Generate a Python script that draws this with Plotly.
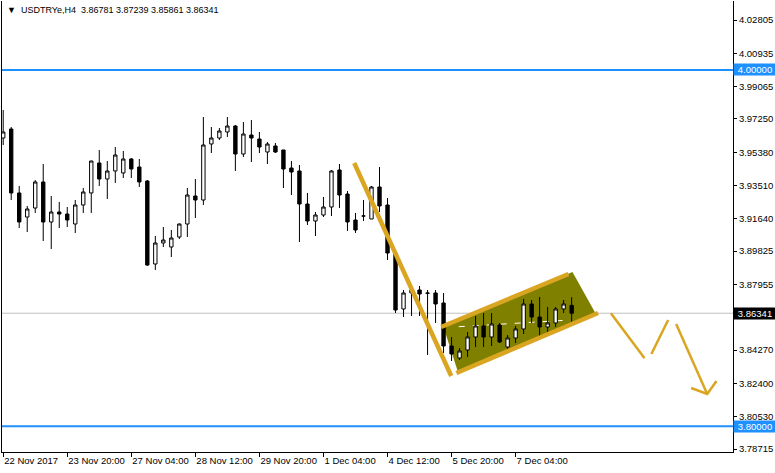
import plotly.graph_objects as go

# USDTRYe H4 bars, 22 Nov 12:00 .. 8 Dec 08:00 (bar index 0..71)
opens = [3.96179, 3.96685, 3.93092, 3.91743, 3.92249, 3.93709, 3.91463, 3.92025, 3.91912, 3.91350,
         3.92418, 3.93092, 3.94776, 3.93877, 3.94327, 3.94215, 3.95000, 3.94551, 3.93765, 3.89104,
         3.90284, 3.90059, 3.90620, 3.91350, 3.92923, 3.92698, 3.95843, 3.96179, 3.96517, 3.96853,
         3.95281, 3.96348, 3.96123, 3.95393, 3.95731, 3.95506, 3.94495, 3.94327, 3.92474, 3.91519,
         3.91856, 3.92305, 3.94383, 3.93035, 3.91575, 3.91800, 3.91631, 3.93428, 3.92418, 3.89722,
         3.86578, 3.87477, 3.87645, 3.87477, 3.87477, 3.86915, 3.84501, 3.83826, 3.84276, 3.85006,
         3.85624, 3.85006, 3.85680, 3.84444, 3.84950, 3.85455, 3.86859, 3.86129, 3.85568, 3.85792,
         3.86578, 3.86781]
highs = [3.97752, 3.96797, 3.93485, 3.92362, 3.93821, 3.94719, 3.92923, 3.92586, 3.92305, 3.92698,
         3.93372, 3.94900, 3.95506, 3.94888, 3.95674, 3.95450, 3.95056, 3.95000, 3.93821, 3.90677,
         3.91182, 3.91014, 3.91380, 3.93372, 3.93877, 3.97359, 3.96797, 3.96741, 3.97359, 3.96910,
         3.97078, 3.97190, 3.96517, 3.95955, 3.95899, 3.95506, 3.94888, 3.94663, 3.93092, 3.92025,
         3.92867, 3.94383, 3.94720, 3.93204, 3.91969, 3.92698, 3.93485, 3.94551, 3.92811, 3.89891,
         3.87645, 3.87814, 3.87870, 3.87645, 3.87645, 3.87477, 3.85006, 3.84388, 3.85287, 3.86185,
         3.86353, 3.86353, 3.85792, 3.85118, 3.85624, 3.87139, 3.87083, 3.87252, 3.86690, 3.86690,
         3.87083, 3.87239]
lows = [3.95787, 3.92698, 3.91126, 3.90902, 3.91969, 3.90396, 3.89947, 3.91126, 3.91182, 3.90846,
        3.91969, 3.91969, 3.93485, 3.92754, 3.93653, 3.93933, 3.93933, 3.93428, 3.88992, 3.88768,
        3.90059, 3.89498, 3.90508, 3.90620, 3.91688, 3.92418, 3.95337, 3.96067, 3.96236, 3.94327,
        3.95113, 3.94832, 3.95337, 3.94720, 3.95337, 3.93372, 3.92979, 3.90340, 3.91295, 3.90677,
        3.91743, 3.91800, 3.92249, 3.90958, 3.90846, 3.91519, 3.91631, 3.92025, 3.89329, 3.86353,
        3.86129, 3.86185, 3.86185, 3.83995, 3.85792, 3.84107, 3.83658, 3.83714, 3.83882, 3.84444,
        3.84444, 3.84501, 3.84669, 3.84276, 3.84669, 3.85174, 3.85792, 3.85062, 3.85287, 3.85568,
        3.86353, 3.85861]
closes = [3.96517, 3.93092, 3.91463, 3.92193, 3.93709, 3.91463, 3.92025, 3.91912, 3.91575, 3.92418,
          3.93148, 3.94888, 3.93877, 3.94327, 3.95225, 3.95000, 3.94439, 3.93709, 3.89048, 3.90284,
          3.90452, 3.90564, 3.91350, 3.92979, 3.92698, 3.95787, 3.96179, 3.96573, 3.96853, 3.95281,
          3.96404, 3.96179, 3.95674, 3.95843, 3.95393, 3.94439, 3.94270, 3.92474, 3.91519, 3.91856,
          3.92305, 3.94327, 3.92979, 3.91463, 3.91014, 3.91800, 3.93428, 3.92362, 3.89722, 3.86522,
          3.87477, 3.87645, 3.87420, 3.87460, 3.86859, 3.84501, 3.84051, 3.84219, 3.85006, 3.85624,
          3.85006, 3.85736, 3.84725, 3.84950, 3.85455, 3.86859, 3.86129, 3.85568, 3.85792, 3.86578,
          3.86859, 3.86341]
bars = list(range(len(opens)))

# time axis labels every 8 bars
date_ticks = [0, 8, 16, 24, 32, 40, 48, 56, 64]
date_labels = ["22 Nov 2017", "23 Nov 20:00", "27 Nov 04:00", "28 Nov 12:00", "29 Nov 20:00",
               "1 Dec 04:00", "4 Dec 12:00", "5 Dec 20:00", "7 Dec 04:00"]

price_ticks = [4.02805, 4.00935, 3.99065, 3.97250, 3.95380, 3.93510, 3.91640, 3.89825,
               3.87955, 3.86085, 3.84270, 3.82400, 3.80530, 3.78715]

# horizontal levels and current bid
levels = [4.00000, 3.80000]
bid = 3.86341

# the scale label sitting under the bid marker is left blank
price_labels = ["" if abs(v - bid) < 0.003 else f"{v:.5f}" for v in price_ticks]

# analysis drawings (bar index, price)
trend_bars = [43.84, 55.96]
trend_prices = [3.94776, 3.82816]
flag_fill_bars = [54.95, 71.1, 74.1, 56.8]
flag_fill_prices = [3.85624, 3.88655, 3.86241, 3.83041]
flag_top_bars = [54.7, 70.6]
flag_top_prices = [3.85568, 3.88543]
flag_bottom_bars = [56.6, 74.3]
flag_bottom_prices = [3.82984, 3.86353]
flag_mid_bars = [56.9, 70.8]
flag_mid_prices = [3.85584, 3.85960]
zig1_bars = [75.9, 80.1]
zig1_prices = [3.86336, 3.83809]
zig2_bars = [80.96, 83.05]
zig2_prices = [3.84051, 3.85960]
zig3_bars = [84.05, 87.93]
zig3_prices = [3.85736, 3.81805]
head_bars = [85.92, 87.93, 89.09]
head_prices = [3.82142, 3.81805, 3.82535]

FONT = "Liberation Sans"
GOLD = "#DAA520"
BLUE = "#1E90FF"

fig = go.Figure()

fig.add_trace(go.Candlestick(
    x=bars, open=opens, high=highs, low=lows, close=closes,
    increasing=dict(line=dict(color="black", width=1), fillcolor="white"),
    decreasing=dict(line=dict(color="black", width=1), fillcolor="black"),
    whiskerwidth=0, hoverinfo="skip", showlegend=False))

for xs, ys, w in [(trend_bars, trend_prices, 4.5),
                  (flag_top_bars, flag_top_prices, 4.5),
                  (flag_bottom_bars, flag_bottom_prices, 4.5),
                  (zig1_bars, zig1_prices, 2.5),
                  (zig2_bars, zig2_prices, 2.5),
                  (zig3_bars, zig3_prices, 2.5),
                  (head_bars, head_prices, 2.5)]:
    fig.add_trace(go.Scatter(x=xs, y=ys, mode="lines", line=dict(color=GOLD, width=w),
                             hoverinfo="skip", showlegend=False))

# background objects sit under the candles
flag_path = "M " + " L ".join(f"{b},{p}" for b, p in zip(flag_fill_bars, flag_fill_prices)) + " Z"
shapes = [dict(type="line", xref="paper", x0=0, x1=1, yref="y", y0=bid, y1=bid,
               line=dict(color="#C0C0C0", width=1), layer="below"),
          dict(type="path", xref="x", yref="y", path=flag_path, fillcolor="#808000",
               line=dict(width=0), layer="below"),
          dict(type="line", xref="x", yref="y", x0=flag_mid_bars[0], x1=flag_mid_bars[1],
               y0=flag_mid_prices[0], y1=flag_mid_prices[1],
               line=dict(color="white", width=1, dash="6px,8px"), layer="below")]
for lv in levels:
    shapes.append(dict(type="line", xref="paper", x0=0, x1=1, yref="y", y0=lv, y1=lv,
                       line=dict(color=BLUE, width=2), layer="below"))

annotations = [dict(xref="paper", yref="paper", x=0, y=1, xanchor="left", yanchor="top",
                    xshift=3, yshift=-2, showarrow=False,
                    text="<span style='font-size:9px'>▼</span>  USDTRYe,H4  3.86781 3.87239 3.85861 3.86341",
                    font=dict(family=FONT, size=9, color="black"))]
for val, bg in [(levels[0], BLUE), (levels[1], BLUE), (bid, "black")]:
    annotations.append(dict(xref="paper", yref="y", x=1, y=val, xanchor="left", yanchor="middle",
                            xshift=0, showarrow=False, text=f"{val:.5f}", width=42, height=11,
                            align="center", borderpad=0, bgcolor=bg,
                            font=dict(family=FONT, size=9.5, color="white")))

fig.update_layout(
    width=775, height=473,
    margin=dict(l=2, r=42, t=1, b=21, autoexpand=False),
    paper_bgcolor="white", plot_bgcolor="white",
    font=dict(family=FONT, size=9.5, color="black"),
    boxgap=0.4,
    shapes=shapes, annotations=annotations,
    xaxis=dict(range=[-0.15, 91.15], tickvals=date_ticks, ticktext=date_labels, tickangle=0,
               ticks="outside", ticklen=4, tickcolor="black", ticklabelposition="outside right",
               tickfont=dict(size=9.5), automargin=False,
               showgrid=False, zeroline=False, showline=True, linecolor="black", linewidth=1,
               rangeslider=dict(visible=False), fixedrange=True),
    yaxis=dict(range=[3.78548, 4.03872], side="right", tickvals=price_ticks, ticktext=price_labels,
               ticks="outside", ticklen=3, tickcolor="black", automargin=False,
               showgrid=False, zeroline=False, showline=True, mirror=True,
               linecolor="black", linewidth=1, fixedrange=True),
)

fig.write_html("out.html")
